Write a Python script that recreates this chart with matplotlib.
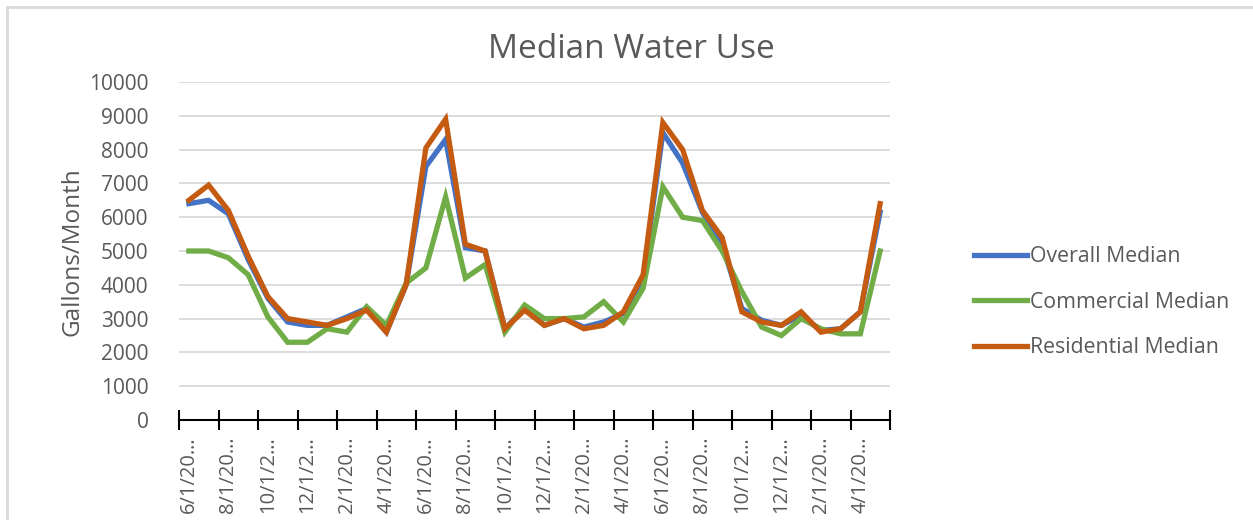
import matplotlib
import matplotlib.pyplot as plt
from matplotlib.patches import Rectangle
from matplotlib.ticker import FixedLocator, NullFormatter

matplotlib.use("Agg")

# monthly data, Jun through May, three years
months = [
    "6/1/2019", "7/1/2019", "8/1/2019", "9/1/2019", "10/1/2019", "11/1/2019",
    "12/1/2019", "1/1/2020", "2/1/2020", "3/1/2020", "4/1/2020", "5/1/2020",
    "6/1/2020", "7/1/2020", "8/1/2020", "9/1/2020", "10/1/2020", "11/1/2020",
    "12/1/2020", "1/1/2021", "2/1/2021", "3/1/2021", "4/1/2021", "5/1/2021",
    "6/1/2021", "7/1/2021", "8/1/2021", "9/1/2021", "10/1/2021", "11/1/2021",
    "12/1/2021", "1/1/2022", "2/1/2022", "3/1/2022", "4/1/2022", "5/1/2022",
]
overall = [
    6400, 6500, 6100, 4750, 3600, 2900, 2800, 2800, 3050, 3300, 2600, 4000,
    7500, 8300, 5100, 5000, 2700, 3300, 2800, 3000, 2750, 2900, 3150, 4200,
    8500, 7600, 6150, 5200, 3300, 2950, 2800, 3100, 2650, 2700, 3200, 6150,
]
commercial = [
    5000, 5000, 4800, 4300, 3050, 2300, 2300, 2700, 2600, 3350, 2800, 4050,
    4500, 6600, 4200, 4600, 2600, 3400, 3000, 3000, 3050, 3500, 2900, 3900,
    6900, 6000, 5900, 5000, 3800, 2750, 2500, 3000, 2700, 2550, 2550, 5000,
]
residential = [
    6500, 6950, 6200, 4850, 3650, 3000, 2900, 2800, 3000, 3250, 2600, 4000,
    8050, 8900, 5200, 5000, 2700, 3250, 2800, 3000, 2700, 2800, 3200, 4300,
    8800, 8000, 6200, 5400, 3200, 2900, 2800, 3200, 2600, 2700, 3200, 6400,
]

TXT = "#595959"
plt.rcParams["font.family"] = ["Open Sans", "DejaVu Sans"]

fig = plt.figure(figsize=(12.53, 5.20), dpi=100)
W, H = 1253, 520
ax = fig.add_axes([179 / W, 100 / H, (890 - 179) / W, 338 / H])

# chart area border (cropped on the right/bottom)
fig.patches.append(Rectangle((7 / W, -0.1), 1.2, (513 / H) + 0.1,
                             transform=fig.transFigure, fill=False,
                             edgecolor="#D9D9D9", linewidth=2.0))

x = list(range(len(months)))
ax.plot(x, overall, color="#4472C4", lw=3.8, label="Overall Median", solid_joinstyle="miter")
ax.plot(x, commercial, color="#70AD47", lw=3.8, label="Commercial Median", solid_joinstyle="miter")
ax.plot(x, residential, color="#C55A11", lw=3.8, label="Residential Median", solid_joinstyle="miter")

ax.set_xlim(-0.5, len(months) - 0.5)
ax.set_ylim(0, 10000)
ax.set_yticks(range(0, 10001, 1000))
ax.yaxis.grid(True, color="#D9D9D9", lw=1.3)
ax.set_axisbelow(True)
ax.tick_params(axis="y", length=0, pad=22, labelsize=15, labelcolor=TXT)

for s in ["top", "right", "left"]:
    ax.spines[s].set_visible(False)
ax.spines["bottom"].set_color("black")
ax.spines["bottom"].set_linewidth(1.5)

# major ticks between categories, labels every other month
ax.xaxis.set_major_locator(FixedLocator([i - 0.5 for i in range(0, len(months) + 1, 2)]))
ax.xaxis.set_major_formatter(NullFormatter())
ax.tick_params(axis="x", which="major", direction="inout", length=14, width=1.5, color="black")
ax.xaxis.set_minor_locator(FixedLocator(x[::2]))
ax.set_xticklabels([m[:6] + "…" for m in months[::2]], minor=True, rotation=90,
                   fontsize=14.5, color=TXT)
ax.tick_params(axis="x", which="minor", length=0, pad=12)

ax.set_ylabel("Gallons/Month", fontsize=17.5, color=TXT)
ax.yaxis.set_label_coords((84 - 179) / 711, (420 - 252) / 338)
fig.text(631 / W, 1 - 50 / H, "Median Water Use", ha="center", va="center",
         fontsize=24, color=TXT)

ax.legend(loc="center left", bbox_to_anchor=(955 / W, 1 - 302 / H),
          bbox_transform=fig.transFigure, frameon=False, fontsize=15.3,
          labelcolor=TXT, handlelength=2.5, handletextpad=0.15, labelspacing=1.15)

fig.savefig("out.png", dpi=100)
